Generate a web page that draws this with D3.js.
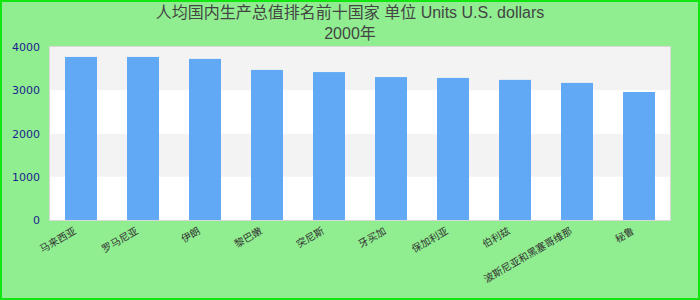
<!DOCTYPE html>
<html>
<head>
<meta charset="utf-8">
<script src="https://cdn.jsdelivr.net/npm/d3@7"></script>
<style>
html,body{margin:0;padding:0;}
body{width:700px;height:300px;overflow:hidden;}
</style>
</head>
<body>
<svg id="chart" width="700" height="300"></svg>
<script>
const titleLines = ["人均国内生产总值排名前十国家 单位 Units U.S. dollars", "2000年"];
const categories = ["马来西亚", "罗马尼亚", "伊朗", "黎巴嫩", "突尼斯", "牙买加", "保加利亚", "伯利兹", "波斯尼亚和黑塞哥维那", "秘鲁"];
const values = [3770, 3770, 3725, 3470, 3420, 3305, 3285, 3240, 3170, 2960];
const yTicks = [0, 1000, 2000, 3000, 4000];

const W = 700, H = 300;
const m = {left: 50, right: 30, top: 47, bottom: 80};
const svg = d3.select("#chart");

svg.append("rect").attr("x", 1).attr("y", 1).attr("width", W - 2).attr("height", H - 2)
  .attr("fill", "#90ee90").attr("stroke", "#11e611").attr("stroke-width", 2);

const x = d3.scaleBand().domain(categories).range([m.left, W - m.right]).padding(0);
const y = d3.scaleLinear().domain([0, 4000]).range([H - m.bottom, m.top]);

// plot background
svg.append("rect").attr("x", m.left).attr("y", m.top)
  .attr("width", W - m.left - m.right).attr("height", H - m.top - m.bottom)
  .attr("fill", "#ffffff");
// stripes
const bands = d3.pairs(yTicks);
svg.append("g").selectAll("rect").data(bands).join("rect")
  .attr("x", m.left).attr("width", W - m.left - m.right)
  .attr("y", d => y(d[1])).attr("height", d => y(d[0]) - y(d[1]))
  .attr("fill", (d, i) => i % 2 === 1 ? "#f3f3f3" : "#ffffff");
svg.append("rect").attr("x", m.left - 0.5).attr("y", m.top - 0.5)
  .attr("width", W - m.left - m.right + 1).attr("height", H - m.top - m.bottom + 1)
  .attr("fill", "none").attr("stroke", "#d8d8d8").attr("stroke-width", 1);

// bars
const bw = x.bandwidth() * 0.516;
svg.append("g").selectAll("rect").data(categories).join("rect")
  .attr("x", d => x(d) + (x.bandwidth() - bw) / 2)
  .attr("width", bw)
  .attr("y", (d, i) => y(values[i]))
  .attr("height", (d, i) => y(0) - y(values[i]))
  .attr("fill", "#62a9f5");

// y axis
const yAxis = svg.append("g").attr("transform", `translate(${m.left},0)`)
  .call(d3.axisLeft(y).tickValues(yTicks).tickSize(0).tickPadding(10).tickFormat(d3.format("d")));
yAxis.select(".domain").remove();
yAxis.selectAll("text").attr("fill", "#1d1d8f").style("font-family", "DejaVu Sans, sans-serif").style("font-size", "11px");

// x axis
const xAxis = svg.append("g").attr("transform", `translate(0,${H - m.bottom})`)
  .call(d3.axisBottom(x).tickSize(0).tickPadding(0));
xAxis.select(".domain").remove();
xAxis.selectAll("text")
  .attr("fill", "#333")
  .style("font-family", "'Noto Sans CJK SC', sans-serif").style("font-size", "10px")
  .attr("text-anchor", "end")
  .attr("dy", "0")
  .attr("transform", "translate(-4,13) rotate(-30)");

// title
svg.append("g").selectAll("text").data(titleLines).join("text")
  .attr("x", 350).attr("y", (d, i) => 18 + i * 21)
  .attr("text-anchor", "middle")
  .attr("fill", "#444")
  .style("font-family", "'Liberation Sans', 'Noto Sans CJK SC', sans-serif")
  .style("font-size", "16px")
  .text(d => d);
</script>
</body>
</html>
